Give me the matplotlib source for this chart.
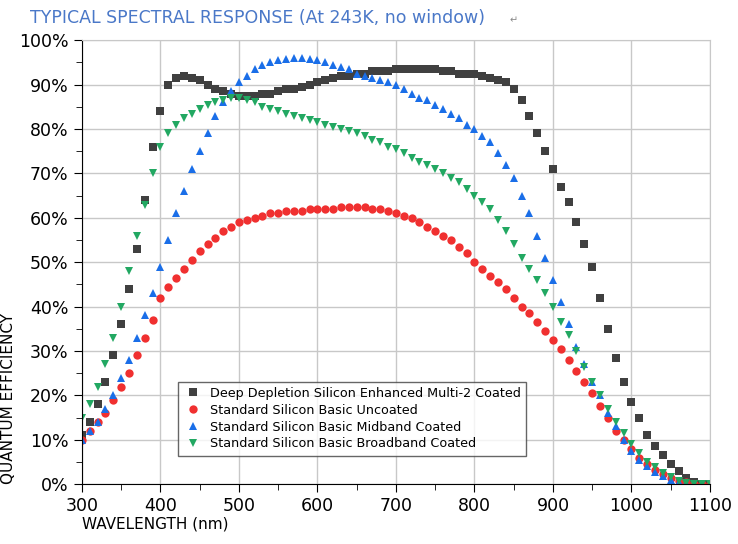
import numpy as np
import matplotlib.pyplot as plt
from matplotlib.ticker import MultipleLocator, FuncFormatter

# wavelength grid, nm (300 .. 1100 every 10 nm)
wavelength = np.arange(300, 1101, 10)

deep_depletion = [
    11, 14, 18, 23, 29, 36, 44, 53, 64, 76,
    84, 90, 91.5, 92, 91.5, 91, 90, 89, 88.5, 88,
    87.5, 87.5, 87.5, 88, 88, 88.5, 89, 89, 89.5, 90,
    90.5, 91, 91.5, 92, 92, 92.5, 92.5, 93, 93, 93,
    93.5, 93.5, 93.5, 93.5, 93.5, 93.5, 93, 93, 92.5, 92.5,
    92.5, 92, 91.5, 91, 90.5, 89, 86.5, 83, 79, 75,
    71, 67, 63.5, 59, 54, 49, 42, 35, 28.5, 23,
    18.5, 15, 11, 8.5, 6.5, 4.5, 3, 1.5, 0.5, 0, 0,
]
basic_uncoated = [
    10, 12, 14, 16, 19, 22, 25, 29, 33, 37,
    42, 44.5, 46.5, 48.5, 50.5, 52.5, 54, 55.5, 57, 58,
    59, 59.5, 60, 60.5, 61, 61, 61.5, 61.5, 61.5, 62,
    62, 62, 62, 62.5, 62.5, 62.5, 62.5, 62, 62, 61.5,
    61, 60.5, 60, 59, 58, 57, 56, 55, 53.5, 52,
    50, 48.5, 47, 45.5, 44, 42, 40, 38.5, 36.5, 34.5,
    32.5, 30.5, 28, 25.5, 23, 20.5, 17.5, 15, 12, 10,
    8, 6, 4.5, 3.3, 2.2, 1.5, 0.8, 0.4, 0, 0, 0,
]
midband_coated = [
    10, 12, 14, 17, 20, 24, 28, 33, 38, 43,
    49, 55, 61, 66, 71, 75, 79, 83, 86, 88.5,
    90.5, 92, 93.5, 94.5, 95, 95.5, 95.8, 96, 96, 95.8,
    95.5, 95, 94.5, 94, 93.5, 92.5, 92, 91.5, 91, 90.5,
    90, 89, 88, 87, 86.5, 85.5, 84.5, 83.5, 82.5, 81,
    80, 78.5, 77, 74.5, 72, 69, 65, 61, 56, 51,
    46, 41, 36, 31, 27, 23, 20, 16, 13, 10,
    7.5, 5.5, 4, 2.8, 1.8, 1, 0.5, 0.2, 0, 0, 0,
]
broadband_coated = [
    15, 18, 22, 27, 33, 40, 48, 56, 63, 70,
    76, 79, 81, 82.5, 83.5, 84.5, 85.5, 86, 86.5, 87,
    87, 86.5, 86, 85, 84.5, 84, 83.5, 83, 82.5, 82,
    81.5, 81, 80.5, 80, 79.5, 79, 78.5, 77.5, 77, 76,
    75.5, 74.5, 73.5, 72.5, 72, 71, 70, 69, 68, 66.5,
    65, 63.5, 62, 59.5, 57, 54, 51, 48.5, 46, 43,
    40, 36.5, 33.5, 30, 26.5, 23, 20, 17, 14, 11.5,
    9, 7, 5, 3.8, 2.5, 1.6, 0.8, 0.3, 0, 0, 0,
]

series = [
    ("Deep Depletion Silicon Enhanced Multi-2 Coated", deep_depletion, "s", "#404040"),
    ("Standard Silicon Basic Uncoated", basic_uncoated, "o", "#f03030"),
    ("Standard Silicon Basic Midband Coated", midband_coated, "^", "#1a6ee8"),
    ("Standard Silicon Basic Broadband Coated", broadband_coated, "v", "#22a862"),
]

fig = plt.figure(figsize=(7.38, 5.44), dpi=100)
ax = fig.add_axes([0.111, 0.110, 0.851, 0.816])

for label, values, marker, color in series:
    ax.plot(wavelength, values, linestyle="none", marker=marker, color=color,
            markersize=6, markeredgewidth=0, label=label)

ax.set_xlim(300, 1100)
ax.set_ylim(0, 100)
ax.xaxis.set_major_locator(MultipleLocator(100))
ax.xaxis.set_minor_locator(MultipleLocator(50))
ax.yaxis.set_major_locator(MultipleLocator(10))
ax.yaxis.set_minor_locator(MultipleLocator(5))
ax.yaxis.set_major_formatter(FuncFormatter(lambda v, _: f"{v:.0f}%"))
ax.grid(True, which="major", color="#c8c8c8", linewidth=1)
ax.set_axisbelow(True)
for side in ("top", "right"):
    ax.spines[side].set_color("#c8c8c8")
ax.tick_params(which="both", direction="out", labelsize=12.5, color="black")
ax.tick_params(which="major", length=6)
ax.tick_params(which="minor", length=4)

ax.set_xlabel("WAVELENGTH (nm)", fontsize=11, loc="left", labelpad=1)
ax.set_ylabel("QUANTUM EFFICIENCY", fontsize=11, loc="bottom", labelpad=2)

leg = ax.legend(loc="lower left", bbox_to_anchor=(0.143, 0.05), fontsize=9.2,
                frameon=True, fancybox=False, edgecolor="#404040",
                handletextpad=0.6, borderpad=0.4, labelspacing=0.3, handlelength=1.5)
leg.get_frame().set_linewidth(1)

fig.text(0.04, 0.967, "TYPICAL SPECTRAL RESPONSE (At 243K, no window)",
         color="#4a78c8", fontsize=12.5, va="center")
fig.text(0.69, 0.962, "\u21b5", color="#888888", fontsize=7, va="center")

fig.savefig("out.png", dpi=100)
